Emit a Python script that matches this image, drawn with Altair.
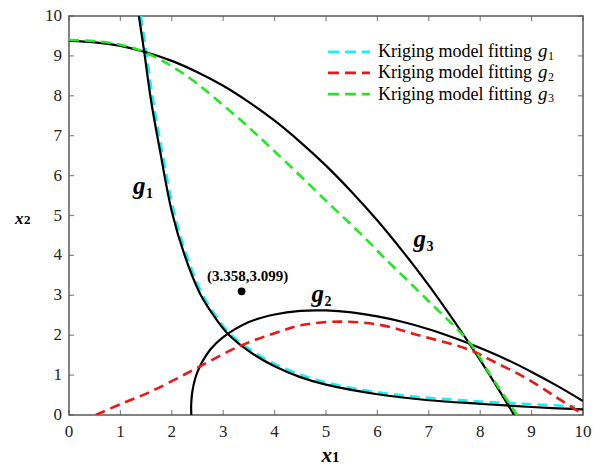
import altair as alt
import pandas as pd

W, H = 514, 399
FONT = "Liberation Serif"

# ---- limit-state boundaries g_i(x) = 0 (black, solid) ----
g1_x = [1.36, 1.46, 1.60, 1.77, 2.00, 2.25, 2.55, 2.80, 3.08, 3.50, 4.00, 4.50, 5.00, 6.00, 7.00, 8.00, 9.00, 10.00]
g1_y = [10.0, 9.13, 7.85, 6.63, 5.10, 4.00, 3.04, 2.52, 2.05, 1.60, 1.22, 0.95, 0.76, 0.52, 0.37, 0.28, 0.20, 0.14]

g2_x = [2.380, 2.376, 2.380, 2.40, 2.45, 2.50, 2.60, 2.75, 3.00, 3.50, 4.00, 4.50, 5.00, 5.50, 6.00, 6.50, 7.00, 7.50, 8.00, 8.50, 9.00, 9.50, 10.00]
g2_y = [0.00, 0.17, 0.34, 0.59, 0.89, 1.08, 1.35, 1.64, 1.95, 2.33, 2.52, 2.61, 2.62, 2.57, 2.47, 2.33, 2.15, 1.93, 1.68, 1.40, 1.08, 0.73, 0.35]

g3_x = [0.0, 0.5, 1.0, 1.5, 2.0, 2.5, 3.0, 3.5, 4.0, 4.5, 5.0, 5.5, 6.0, 6.5, 7.0, 7.5, 8.0, 8.3, 8.66]
g3_y = [9.375, 9.34, 9.25, 9.09, 8.875, 8.59, 8.25, 7.84, 7.375, 6.84, 6.25, 5.59, 4.875, 4.09, 3.25, 2.34, 1.375, 0.76, 0.0]

# ---- Kriging surrogates of the boundaries (dashed) ----
k1_x = [1.40, 1.50, 1.64, 1.81, 2.04, 2.29, 2.59, 2.84, 3.12, 3.55, 4.05, 4.55, 5.05, 6.00, 7.00, 8.00, 9.00, 9.85]
k1_y = [10.0, 9.13, 7.85, 6.63, 5.10, 4.00, 3.04, 2.52, 2.05, 1.62, 1.25, 0.99, 0.80, 0.57, 0.43, 0.34, 0.27, 0.22]

k2_x = [0.52, 1.00, 1.58, 2.42, 3.29, 4.00, 4.56, 5.27, 6.05, 6.80, 7.80, 8.26, 8.90, 9.50, 10.00]
k2_y = [0.00, 0.27, 0.58, 1.13, 1.71, 2.05, 2.26, 2.34, 2.26, 2.00, 1.63, 1.34, 0.92, 0.43, 0.02]

k3_x = [0.0, 0.5, 1.0, 1.48, 2.22, 3.26, 4.04, 5.00, 5.73, 6.11, 7.00, 7.80, 8.22, 8.50, 8.72]
k3_y = [9.40, 9.37, 9.28, 9.09, 8.56, 7.48, 6.56, 5.37, 4.47, 3.97, 2.85, 1.80, 0.96, 0.42, 0.00]

# ---- optimum point ----
opt_x = [3.358]
opt_y = [3.099]
opt_text = ["(3.358,3.099)"]

# ---- curve labels ----
lab_main = ["g", "g", "g"]
lab_sub = ["1", "2", "3"]
lab_x = [1.245, 4.72, 6.70]
lab_y = [5.55, 2.83, 4.21]

tick_vals = list(range(0, 11))
tick_text = [str(v) for v in tick_vals]
legend_text = "Kriging model fitting"
fit_colors = ["#1CEFF0", "#EE1515", "#22E822"]

xs = alt.Scale(domain=[0, 10], nice=False, zero=False)
ys = alt.Scale(domain=[0, 10], nice=False, zero=False)


def X(field):
    return alt.X(field, scale=xs, axis=None)


def Y(field):
    return alt.Y(field, scale=ys, axis=None)


def curve(x, y, color, width, dash=None):
    df = pd.DataFrame({"x": x, "y": y, "k": list(range(len(x)))})
    kw = dict(color=color, strokeWidth=width, interpolate="catmull-rom", clip=True)
    if dash:
        kw["strokeDash"] = dash
    return alt.Chart(df).mark_line(**kw).encode(x=X("x:Q"), y=Y("y:Q"), order="k:Q")


# frame ticks (pointing inward on all four sides) and tick labels
tick_df = pd.DataFrame({"v": tick_vals, "t": tick_text})
TK = dict(color="#555555", thickness=1.2, size=5)
LBL = dict(font=FONT, fontSize=17, color="#222222")
tick_layers = [
    alt.Chart(tick_df).mark_tick(orient="vertical", **TK).encode(x=X("v:Q"), y=alt.value(H - 2.5)),
    alt.Chart(tick_df).mark_tick(orient="vertical", **TK).encode(x=X("v:Q"), y=alt.value(2.5)),
    alt.Chart(tick_df).mark_tick(orient="horizontal", **TK).encode(y=Y("v:Q"), x=alt.value(2.5)),
    alt.Chart(tick_df).mark_tick(orient="horizontal", **TK).encode(y=Y("v:Q"), x=alt.value(W - 2.5)),
    alt.Chart(tick_df).mark_text(align="center", baseline="middle", **LBL).encode(
        x=X("v:Q"), y=alt.value(H + 17), text="t:N"),
    alt.Chart(tick_df).mark_text(align="right", baseline="middle", **LBL).encode(
        y=Y("v:Q"), x=alt.value(-7), text="t:N"),
]

layers = tick_layers + [
    curve(k1_x, k1_y, fit_colors[0], 2.6, [10, 6]),
    curve(g1_x, g1_y, "black", 2.2),
    curve(g2_x, g2_y, "black", 2.2),
    curve(g3_x, g3_y, "black", 2.2),
    curve(k2_x, k2_y, fit_colors[1], 2.6, [10, 6]),
    curve(k3_x, k3_y, fit_colors[2], 2.6, [10, 6]),
]

# optimum marker and its coordinates
opt_df = pd.DataFrame({"x": opt_x, "y": opt_y, "t": opt_text})
layers.append(alt.Chart(opt_df).mark_point(filled=True, size=60, color="black", opacity=1).encode(
    x=X("x:Q"), y=Y("y:Q")))
layers.append(alt.Chart(opt_df).mark_text(font=FONT, fontSize=15, fontWeight="bold", align="center",
                                          baseline="alphabetic", dx=6, dy=-10, color="black").encode(
    x=X("x:Q"), y=Y("y:Q"), text="t:N"))

# g_i labels next to each boundary
lab_df = pd.DataFrame({"x": lab_x, "y": lab_y, "m": lab_main, "s": lab_sub})
layers.append(alt.Chart(lab_df).mark_text(font=FONT, fontSize=25, fontWeight="bold", fontStyle="italic",
                                          align="left", baseline="alphabetic", color="black").encode(
    x=X("x:Q"), y=Y("y:Q"), text="m:N"))
layers.append(alt.Chart(lab_df).mark_text(font=FONT, fontSize=14, fontWeight="bold",
                                          align="left", baseline="alphabetic", dx=13, dy=4, color="black").encode(
    x=X("x:Q"), y=Y("y:Q"), text="s:N"))

# axis titles x1 / x2
one = pd.DataFrame({"v": [0]})


def txt(s, x, y, size, italic=True, bold=True):
    kw = dict(text=s, font=FONT, fontSize=size, align="left", baseline="alphabetic", color="black")
    if italic:
        kw["fontStyle"] = "italic"
    if bold:
        kw["fontWeight"] = "bold"
    return alt.Chart(one).mark_text(**kw).encode(x=alt.value(x), y=alt.value(y))


layers += [
    txt("x", 252.5, 445.5, 21),
    txt("1", 263.0, 445.5, 15, italic=False),
    txt("x", -54, 208, 17),
    txt("2", -45, 208, 13, italic=False),
]

# legend
for i, col in enumerate(fit_colors):
    ly = 35.7 + 21.2 * i
    layers.append(alt.Chart(one).mark_rule(color=col, strokeWidth=2.6, strokeDash=[11, 6]).encode(
        x=alt.value(259), x2=alt.value(301), y=alt.value(ly)))
    layers.append(txt(legend_text, 309, ly + 5.5, 18, italic=False, bold=False))
    layers.append(txt("g", 469, ly + 5.5, 19, italic=True, bold=False))
    layers.append(txt(lab_sub[i], 479, ly + 8, 12, italic=False, bold=False))

chart = alt.layer(*layers).properties(
    width=W, height=H,
    autosize=alt.AutoSizeParams(type="none"),
    padding={"left": 69, "top": 16, "right": 23, "bottom": 54},
).configure_view(stroke="#5a5a5a", strokeWidth=1.5)

chart.save("out.html", embed_options={"renderer": "svg", "actions": False})
